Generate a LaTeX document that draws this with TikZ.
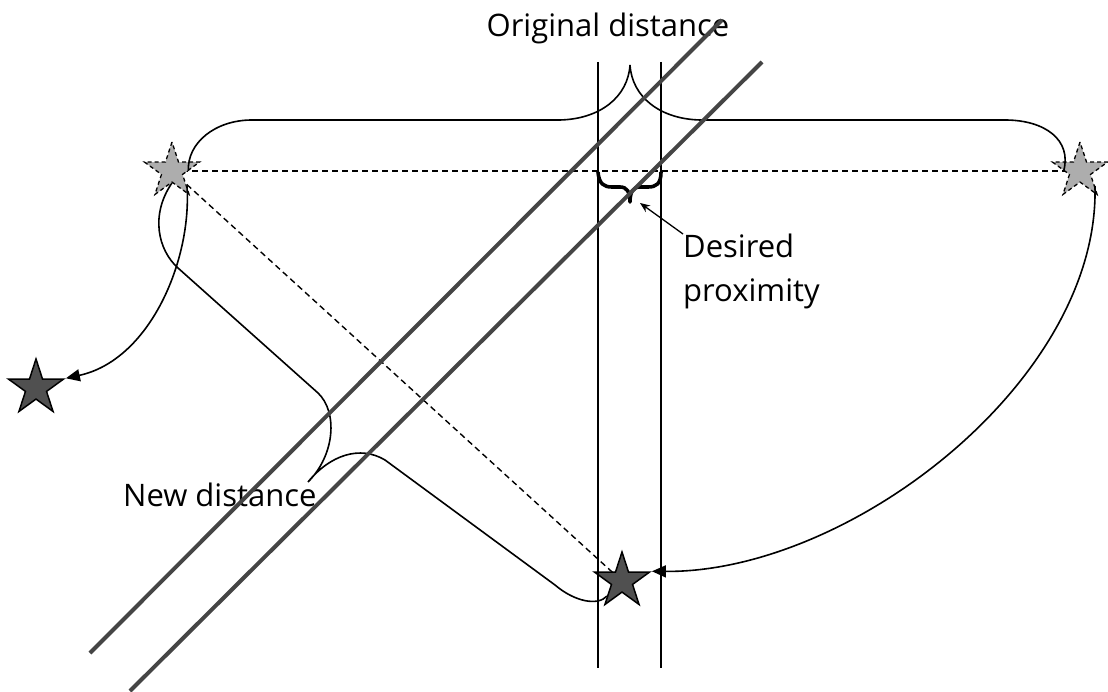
\documentclass[tikz,border=0pt]{standalone}
\usepackage{fontspec}
\setmainfont{Open Sans}
\usetikzlibrary{shapes.geometric,arrows.meta}
\pgfdeclarelayer{bg}
\pgfsetlayers{bg,main}
\definecolor{starlight}{HTML}{ADADAD}
\definecolor{stardark}{HTML}{505050}
\definecolor{roadgray}{HTML}{454545}
\begin{document}
\begin{tikzpicture}[x=1pt,y=-1pt,
  starbase/.style={star,star points=5,star point ratio=2.618,minimum size=58pt,inner sep=0pt},
  lightstar/.style={starbase,fill=starlight,draw=black,line width=1.3pt,dash pattern=on 4pt off 3pt},
  darkstar/.style={starbase,fill=stardark,draw=black,line width=1.5pt},
  dashline/.style={draw=black,line width=1.4pt,dash pattern=on 6pt off 4pt},
  thinline/.style={draw=black,line width=1.6pt},
  road/.style={draw=roadgray,line width=4pt},
  conn/.style={thinline,-{Triangle[length=14pt,width=12pt]}},
  pointer/.style={draw=black,line width=1.3pt,-{Stealth[length=10pt,width=8pt]}},
  bracethick/.style={draw=black,line width=3.6pt,line join=round},
  lbl/.style={font=\fontsize{31}{44}\selectfont,inner sep=0pt}
]
\useasboundingbox (0,0) rectangle (1108,692);

% stars
\node[lightstar] (s1) at (172,171) {};
\node[lightstar] (s2) at (1080,171) {};
\node[darkstar] (s3) at (36,388) {};
\node[darkstar] (s4) at (622,581) {};

% dashed lines (behind stars)
\begin{pgfonlayer}{bg}
\draw[dashline] (s1.center) -- (s2.center);
\draw[dashline] (s1.center) -- (s4.center);
\end{pgfonlayer}

% vertical corridor lines
\draw[thinline] (598,62) -- (598,668);
\draw[thinline] (661,62) -- (661,668);

% curved arrows
\draw[conn] (s1.south east) .. controls (192,260) and (150,360) .. (s3.outer point 5);
\draw[conn] (s2.south east) .. controls (1100,380) and (850,573) .. (s4.outer point 5);

% original distance brace
\draw[thinline] (s1.east) .. controls (187,143) and (215,120) .. (252,120) -- (560,120)
  .. controls (600,119) and (628,97) .. (630,65)
  .. controls (632,97) and (660,119) .. (700,120) -- (1005,120)
  .. controls (1045,120) and (1072,140) .. (s2.west);

% new distance brace
\draw[thinline] (s1.south) .. controls (150,215) and (158,250) .. (178,268) -- (318,393)
  .. controls (338,412) and (335,455) .. (308,482)
  .. controls (330,455) and (360,445) .. (385,460) -- (555,585)
  .. controls (575,602) and (598,606) .. (s4.south west);

% desired proximity brace
\coordinate (dptip) at (640,203);
\draw[bracethick] (598,172) .. controls (599,184) and (604,187) .. (612,187) -- (620,187)
  .. controls (627,187) and (630,192) .. (630,202)
  .. controls (630,192) and (633,187) .. (640,187) -- (648,187)
  .. controls (656,187) and (661,184) .. (661,172);

% labels
\node[lbl, anchor=base] (od) at (608,37) {Original distance};
\node[lbl, anchor=base west] (nd) at (123,506) {New distance};
\node[lbl, anchor=north west, align=left] (dp) at (683,234) {Desired\\proximity};
\draw[pointer] (dp.north west) -- (dptip);

% diagonal roads
\draw[road] (90,653) -- (722,20);
\draw[road] (130,691) -- (762,62);
\end{tikzpicture}
\end{document}
